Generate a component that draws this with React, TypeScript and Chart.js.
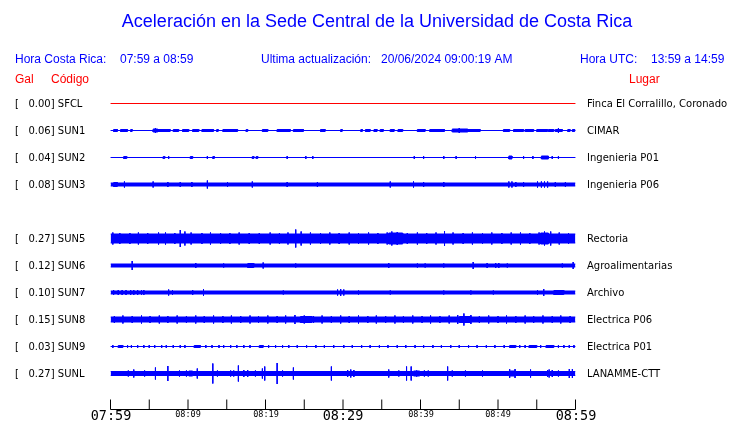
import { useEffect, useRef } from "react";
import { Chart, registerables } from "chart.js";
Chart.register(...registerables);

// ---------- data ----------
const TITLE = "Aceleración en la Sede Central de la Universidad de Costa Rica";
const localRange = "07:59 a 08:59";
const utcRange = "13:59 a 14:59";
const lastUpdate = "20/06/2024 09:00:19 AM";

const stationCodes = ["SFCL", "SUN1", "SUN2", "SUN3", "SUN5", "SUN6", "SUN7", "SUN8", "SUN9", "SUNL"];
const stationRows = [0, 1, 2, 3, 5, 6, 7, 8, 9, 10];
const peakGal = [0.0, 0.06, 0.04, 0.08, 0.27, 0.12, 0.1, 0.15, 0.03, 0.27];
const places = [
  "Finca El Corralillo, Coronado",
  "CIMAR",
  "Ingenieria P01",
  "Ingenieria P06",
  "Rectoria",
  "Agroalimentarias",
  "Archivo",
  "Electrica P06",
  "Electrica P01",
  "LANAMME-CTT",
];
// background half-amplitude of each trace (trace units)
const baseAmp = [0, 0, 0, 1.5, 4.5, 1.5, 1.5, 2.5, 0, 2];

// bursts: [start min, end min, half-amplitude]
const sfclBursts: number[][] = [];
const sun1Bursts = [
  [0.4, 0.9, 1], [1.3, 2.2, 1], [2.6, 2.8, 1], [5.5, 6.1, 1.5], [6.1, 7.7, 1], [8.1, 8.8, 1], [9.3, 10.1, 1],
  [10.6, 11.4, 1], [11.8, 13.3, 1], [13.7, 13.9, 1], [14.5, 16.4, 1], [17.5, 17.7, 1], [19.6, 20.3, 1],
  [21.5, 23.2, 1], [23.6, 24.9, 1], [27.1, 27.7, 1], [29.7, 29.9, 1], [32.3, 32.5, 1], [32.9, 33.5, 1],
  [34.0, 34.4, 1], [34.8, 35.2, 1], [36.1, 36.6, 1], [37.1, 37.7, 1], [39.6, 40.6, 1], [41.2, 43.1, 1],
  [44.1, 46.1, 1.5], [46.1, 47.7, 1], [50.7, 51.5, 1], [52.0, 53.3, 1], [53.5, 54.6, 1], [55.0, 56.4, 1],
  [56.5, 57.2, 1], [57.4, 58.3, 1], [59.0, 59.3, 1], [59.6, 59.9, 1],
];
const sun2Bursts = [
  [1.7, 2.1, 1], [6.8, 7.0, 1], [10.3, 10.6, 1], [13.2, 13.4, 1], [18.3, 18.5, 1], [18.8, 19.0, 1],
  [51.4, 51.8, 1.5], [55.6, 56.5, 1.5],
];
const sun3Bursts = [[0.4, 0.9, 2]];
const sun5Bursts = [[35.9, 37.7, 5.5], [55.5, 56.5, 5.5]];
const sun6Bursts = [[17.7, 18.5, 2]];
const sun7Bursts = [[57.2, 58.5, 2]];
const sun8Bursts = [[24.5, 26.0, 3], [45.0, 46.5, 3]];
const sun9Bursts = [[1.0, 1.6, 1], [10.8, 11.6, 1], [19.2, 19.7, 1], [51.5, 52.3, 1], [54.0, 55.0, 1], [56.2, 57.2, 1]];
const sunlBursts = [[10.1, 10.6, 2.5], [39.1, 39.9, 2.5], [51.4, 52.3, 2.5]];
const stationBursts = [sfclBursts, sun1Bursts, sun2Bursts, sun3Bursts, sun5Bursts, sun6Bursts, sun7Bursts, sun8Bursts, sun9Bursts, sunlBursts];

// spikes: [time min, half-amplitude]
const sfclSpikes: number[][] = [];
const sun1Spikes = [[5.8, 2.5], [45.0, 2.5], [57.8, 2.5]];
const sun2Spikes = [
  [7.5, 1.5], [12.5, 1.5], [22.8, 1.5], [25.2, 1.5], [26.1, 1.5], [39.2, 1.5], [40.4, 1.5], [43.0, 1.5],
  [44.6, 1.5], [47.1, 1.5], [53.3, 1.5], [54.5, 1.5], [57.0, 1.5], [57.8, 1.5],
];
const sun3Spikes = [
  [1.8, 3], [5.5, 3], [7.4, 2.5], [9.0, 2.5], [10.5, 2.5], [12.5, 4], [15.1, 2.5], [18.3, 3], [22.8, 2.5],
  [26.7, 2.5], [36.1, 3], [39.1, 3], [40.4, 2.5], [43.0, 2.5], [51.4, 3], [51.8, 3], [52.3, 2.5], [53.3, 2.5],
  [55.1, 3], [55.6, 3], [56.0, 3], [56.4, 3], [57.4, 2.5], [58.7, 2.5],
];
const sun5Spikes = [
  [0.3, 6], [1.2, 5.5], [2.5, 5.5], [3.6, 6], [4.8, 5.5], [6.2, 6], [7.1, 6], [8.3, 5.5], [9.0, 8.5], [9.6, 7],
  [10.4, 6], [11.8, 5.5], [12.9, 6], [14.2, 5.5], [15.4, 5.5], [16.6, 6], [17.9, 5.5], [19.2, 5.5], [20.6, 6],
  [21.8, 5.5], [22.9, 6], [23.9, 9], [24.6, 7], [25.8, 6], [27.1, 5.5], [28.3, 6], [29.5, 5.5], [30.8, 6],
  [32.0, 5.5], [33.3, 6], [34.5, 5.5], [35.7, 6], [36.3, 7], [37.0, 6.5], [38.3, 5.5], [39.6, 6], [40.8, 5.5],
  [42.0, 6], [43.1, 7.5], [44.2, 6], [45.5, 5.5], [46.7, 6], [48.0, 5.5], [49.2, 6], [50.5, 5.5], [51.7, 6],
  [52.9, 6], [54.1, 5.5], [55.3, 6], [56.0, 7], [56.8, 7], [57.9, 6], [59.1, 5.5],
];
const sun6Spikes = [
  [2.8, 4.5], [11.0, 2.5], [14.6, 2], [19.7, 3], [23.9, 2], [35.9, 2.5], [39.6, 2], [40.6, 2], [43.0, 2],
  [46.8, 3.5], [48.6, 2.5], [49.7, 2.5], [50.1, 2.5], [51.2, 2], [58.3, 2], [59.7, 3.5],
];
const sun7Spikes = [
  [0.4, 2.5], [1.0, 2.5], [1.5, 2.5], [2.0, 2.5], [2.6, 2.5], [3.0, 2.5], [3.5, 2.5], [4.0, 2.5], [4.3, 2.5],
  [7.5, 3], [8.0, 2.5], [10.6, 2.5], [12.0, 3.5], [22.3, 2], [29.3, 3], [29.7, 3.5], [30.1, 3], [32.0, 2],
  [36.1, 2], [43.0, 2], [46.5, 2], [49.4, 2], [55.1, 2.5], [55.9, 3.5],
];
const sun8Spikes = [
  [0.5, 3.5], [1.6, 4], [2.8, 3.5], [4.0, 4], [5.1, 3.5], [6.3, 4], [7.4, 3.5], [8.6, 4], [9.8, 3.5],
  [11.0, 4], [12.1, 3.5], [13.3, 4], [14.5, 3.5], [15.6, 4], [16.8, 3.5], [18.0, 4], [19.1, 3.5], [20.3, 4],
  [21.5, 3.5], [22.6, 4], [23.8, 4.5], [25.0, 4], [26.2, 3.5], [27.3, 4], [28.5, 3.5], [29.7, 4], [30.8, 3.5],
  [32.0, 4], [33.2, 3.5], [34.3, 4], [35.5, 3.5], [36.7, 4], [37.8, 3.5], [39.0, 4], [40.2, 3.5], [41.3, 4],
  [42.5, 3.5], [43.7, 4], [44.8, 4.5], [45.6, 6], [46.5, 4.5], [47.6, 3.5], [48.8, 4], [50.0, 3.5], [51.1, 4],
  [52.3, 3.5], [53.5, 4], [54.6, 3.5], [55.8, 4], [57.0, 3.5], [58.1, 4], [59.3, 3.5],
];
const sun9Spikes = [
  [0.3, 1.5], [2.2, 1.5], [2.7, 1.5], [3.5, 1.5], [4.3, 1.5], [5.0, 1.5], [5.7, 1.5], [6.6, 1.5], [7.2, 1.5],
  [8.1, 1.5], [9.0, 1.5], [9.6, 1.5], [12.3, 1.5], [13.1, 1.5], [14.0, 1.5], [14.6, 1.5], [15.5, 1.5],
  [16.3, 1.5], [17.2, 1.5], [18.0, 1.5], [20.4, 1.5], [21.3, 1.5], [22.2, 1.5], [23.0, 1.5], [24.1, 1.5],
  [25.3, 1.5], [26.5, 1.5], [27.6, 1.5], [28.8, 1.5], [30.1, 1.5], [31.2, 1.5], [32.4, 1.5], [33.5, 1.5],
  [34.7, 1.5], [35.8, 1.5], [37.0, 1.5], [38.1, 1.5], [39.3, 1.5], [40.4, 1.5], [41.6, 1.5], [42.7, 1.5],
  [43.9, 1.5], [45.0, 1.5], [46.2, 1.5], [47.3, 1.5], [48.5, 1.5], [49.6, 1.5], [50.8, 1.5], [52.8, 1.5],
  [53.5, 1.5], [55.5, 1.5], [57.8, 1.5], [58.5, 1.5], [59.2, 1.5], [59.8, 1.5],
];
const sunlSpikes = [
  [1.5, 2.5], [2.3, 3], [3.0, 4], [4.4, 3], [5.8, 6], [7.4, 7.5], [8.9, 3], [9.8, 3], [11.2, 5], [13.2, 10],
  [13.8, 3], [15.5, 3], [15.9, 3], [16.5, 8], [17.2, 3.5], [17.7, 3.5], [18.7, 3], [19.6, 5], [19.9, 7],
  [21.5, 10.5], [22.2, 3], [23.6, 6], [28.5, 7], [30.6, 3.5], [31.0, 4], [31.4, 3.5], [35.9, 4], [37.2, 3],
  [38.2, 7], [38.8, 7], [39.5, 3], [40.5, 3], [41.0, 3], [43.5, 7], [44.1, 3], [45.8, 3], [48.0, 3], [51.5, 4.5],
  [52.2, 4.5], [54.2, 4], [56.4, 3.5], [56.6, 4], [57.0, 3.5], [57.8, 3], [59.2, 4.5], [59.6, 4.5],
];
const stationSpikes = [sfclSpikes, sun1Spikes, sun2Spikes, sun3Spikes, sun5Spikes, sun6Spikes, sun7Spikes, sun8Spikes, sun9Spikes, sunlSpikes];

const tickMinutes = [0, 5, 10, 15, 20, 25, 30, 35, 40, 45, 50, 55, 60];
const tickLabels = ["07:59", "", "08:09", "", "08:19", "", "08:29", "", "08:39", "", "08:49", "", "08:59"];
const majorTicks = ["07:59", "08:29", "08:59"];

// ---------- helpers ----------
const TRACE_GAIN = 1 / 27; // trace units -> row units
const BLUE = "#0000ff";
const RED = "#ff0000";

function envelope(row: number, base: number, bursts: number[][]) {
  const pts: { x: number; a: number }[] = [{ x: 0, a: base }];
  for (const [t0, t1, h] of bursts) {
    pts.push({ x: t0, a: base }, { x: t0, a: h }, { x: t1, a: h }, { x: t1, a: base });
  }
  pts.push({ x: 60, a: base });
  return {
    upper: pts.map((p) => ({ x: p.x, y: row - p.a * TRACE_GAIN })),
    lower: pts.map((p) => ({ x: p.x, y: row + p.a * TRACE_GAIN })),
  };
}

function spikeData(row: number, spikes: number[][]) {
  const out: { x: number; y: number | null }[] = [];
  for (const [t, h] of spikes) {
    out.push({ x: t, y: row - h * TRACE_GAIN }, { x: t, y: row + h * TRACE_GAIN }, { x: t, y: null });
  }
  return out;
}

const textPlugin = {
  id: "seismoTexts",
  afterDraw(chart: any) {
    const { ctx, chartArea } = chart;
    const xs = chart.scales.x;
    const ys = chart.scales.y;
    ctx.save();
    ctx.textBaseline = "middle";
    // title
    ctx.fillStyle = BLUE;
    ctx.textAlign = "center";
    ctx.font = '18px "Liberation Sans", Arial, sans-serif';
    ctx.fillText(TITLE, 377, 22);
    // header line
    ctx.textAlign = "left";
    ctx.font = '12px "Liberation Sans", Arial, sans-serif';
    ctx.fillText("Hora Costa Rica:", 15, 60);
    ctx.fillText(localRange, 120, 60);
    ctx.fillText("Ultima actualización:", 261, 60);
    ctx.fillText(lastUpdate, 381, 60);
    ctx.fillText("Hora UTC:", 580, 60);
    ctx.fillText(utcRange, 651, 60);
    ctx.fillStyle = RED;
    ctx.fillText("Gal", 15, 80);
    ctx.fillText("Código", 51, 80);
    ctx.fillText("Lugar", 629, 80);
    // station labels
    ctx.fillStyle = "#000000";
    ctx.font = '10px "DejaVu Sans", sans-serif';
    stationCodes.forEach((code, i) => {
      const y = ys.getPixelForValue(stationRows[i]) + 1;
      ctx.textAlign = "left";
      ctx.fillText("[   " + peakGal[i].toFixed(2) + "] " + code, 15, y);
      ctx.fillText(places[i], 587, y);
    });
    // time axis
    ctx.strokeStyle = "#000000";
    ctx.lineWidth = 1;
    const yb = chartArea.bottom;
    ctx.beginPath();
    ctx.moveTo(xs.getPixelForValue(0), yb);
    ctx.lineTo(xs.getPixelForValue(60), yb);
    tickMinutes.forEach((m) => {
      const px = xs.getPixelForValue(m);
      ctx.moveTo(px, yb);
      ctx.lineTo(px, yb - 10);
    });
    ctx.stroke();
    ctx.textAlign = "center";
    tickMinutes.forEach((m, i) => {
      const lab = tickLabels[i];
      if (!lab) return;
      const big = majorTicks.includes(lab);
      ctx.font = (big ? "13.5px" : "8.5px") + ' "DejaVu Sans Mono", monospace';
      ctx.fillText(lab, Math.round(xs.getPixelForValue(m)), big ? 416 : 415);
    });
    ctx.restore();
  },
};

export default function App() {
  const ref = useRef<HTMLCanvasElement | null>(null);
  useEffect(() => {
    document.body.style.margin = "0";
    const datasets: any[] = [];
    stationCodes.forEach((code, i) => {
      const row = stationRows[i];
      const color = code === "SFCL" ? RED : BLUE;
      const env = envelope(row, baseAmp[i], stationBursts[i]);
      datasets.push({
        label: code + " upper",
        data: env.upper,
        borderColor: color,
        borderWidth: 1,
        pointRadius: 0,
        fill: false,
      });
      datasets.push({
        label: code + " lower",
        data: env.lower,
        borderColor: color,
        backgroundColor: color,
        borderWidth: 1,
        pointRadius: 0,
        fill: "-1",
      });
      if (stationSpikes[i].length) {
        datasets.push({
          label: code + " peaks",
          data: spikeData(row, stationSpikes[i]),
          borderColor: color,
          borderWidth: 1,
          pointRadius: 0,
          fill: false,
          spanGaps: false,
        });
      }
    });
    const chart = new Chart(ref.current as HTMLCanvasElement, {
      type: "line",
      data: { datasets },
      options: {
        animation: false,
        responsive: false,
        devicePixelRatio: 1,
        layout: { padding: { left: 110.5, right: 164.5, top: 90, bottom: 13.5 } },
        elements: { line: { tension: 0, borderCapStyle: "butt" } },
        scales: {
          x: { type: "linear", min: 0, max: 60, display: false },
          y: { type: "linear", min: -0.5, max: 11.3333, reverse: true, display: false },
        },
        plugins: { legend: { display: false }, tooltip: { enabled: false }, title: { display: false } },
      },
      plugins: [textPlugin],
    });
    return () => chart.destroy();
  }, []);
  return <canvas ref={ref} width={740} height={423} style={{ display: "block" }} />;
}
